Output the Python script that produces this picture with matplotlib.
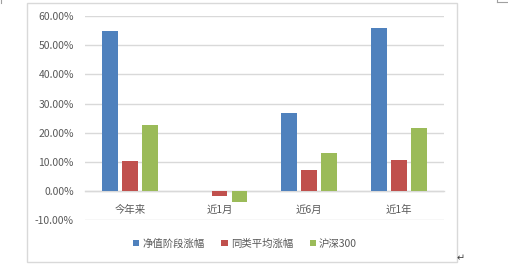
import matplotlib
matplotlib.use("Agg")
import matplotlib.pyplot as plt
from matplotlib.patches import Rectangle, Patch
from matplotlib.lines import Line2D
import numpy as np

plt.rcParams['font.family'] = ['Noto Sans CJK SC', 'DejaVu Sans']

categories = ['今年来', '近1月', '近6月', '近1年']
series_names = ['净值阶段涨幅', '同类平均涨幅', '沪深300']
nav_change = [54.9, 0.0, 26.8, 55.9]
peer_avg = [10.4, -1.8, 7.3, 10.7]
hs300 = [22.7, -3.6, 13.1, 21.7]
yticks = [-10, 0, 10, 20, 30, 40, 50, 60]
ytick_labels = ['-10.00%', '0.00%', '10.00%', '20.00%', '30.00%', '40.00%', '50.00%', '60.00%']

colors = ['#4F81BD', '#C0504D', '#9BBB59']
text_color = '#595959'
grid_color = '#D9D9D9'

W, H = 508, 275
fig = plt.figure(figsize=(W / 100, H / 100), dpi=100)

# chart border
fig.add_artist(Rectangle((27 / W, 1 - 261.5 / H), (456.7 - 27) / W, (261.5 - 3.3) / H,
                         transform=fig.transFigure, fill=False, edgecolor=grid_color, lw=1.0))
# document artifacts
fig.add_artist(Line2D([0.7 / W, 0.7 / W], [1, 1 - 3 / H], transform=fig.transFigure, color='#A0A0A0', lw=0.8))
fig.add_artist(Line2D([497 / W, 508 / W], [1 - 1.5 / H, 1 - 1.5 / H], transform=fig.transFigure, color='#A0A0A0', lw=0.8))
fig.add_artist(Line2D([497 / W, 497 / W], [1 - 1.5 / H, 1], transform=fig.transFigure, color='#A0A0A0', lw=0.8))
fig.text(457 / W, 1 - 258 / H, '↵', fontsize=7, color='#404040', va='center', ha='left', family=['DejaVu Sans'])

left, right = 85, 443.7
top, bottom = 16, 220.3
ax = fig.add_axes([left / W, 1 - bottom / H, (right - left) / W, (bottom - top) / H])

x = np.arange(len(categories))
step = 0.223
width = 0.173
for i, (vals, c) in enumerate(zip([nav_change, peer_avg, hs300], colors)):
    ax.bar(x + (i - 1) * step, vals, width=width, color=c, zorder=3)

ax.set_xlim(-0.5, len(categories) - 0.5)
ax.set_ylim(-10, 60)
ax.set_yticks(yticks)
ax.set_yticklabels(ytick_labels)
ax.yaxis.grid(True, color=grid_color, lw=1.0, zorder=0)
ax.set_axisbelow(True)
for s in ['left', 'right', 'top']:
    ax.spines[s].set_visible(False)
ax.spines['bottom'].set_position(('data', 0))
ax.spines['bottom'].set_color(grid_color)
ax.spines['bottom'].set_linewidth(1.0)
ax.set_xticks(x)
ax.set_xticklabels(categories)
ax.tick_params(axis='x', length=0, pad=10, labelsize=7.5, labelcolor=text_color)
ax.tick_params(axis='y', length=0, pad=8, labelsize=7.5, labelcolor=text_color)
ax.set_facecolor('none')

handles = [Patch(facecolor=c, edgecolor='none') for c in colors]
fig.legend(handles, series_names, loc='center', bbox_to_anchor=(245 / W, 1 - 243.5 / H), ncol=3,
           frameon=False, fontsize=7.5, labelcolor=text_color, handlelength=0.6, handleheight=0.6,
           handletextpad=0.3, columnspacing=1.6, borderpad=0)

fig.savefig('out.png', dpi=100)
